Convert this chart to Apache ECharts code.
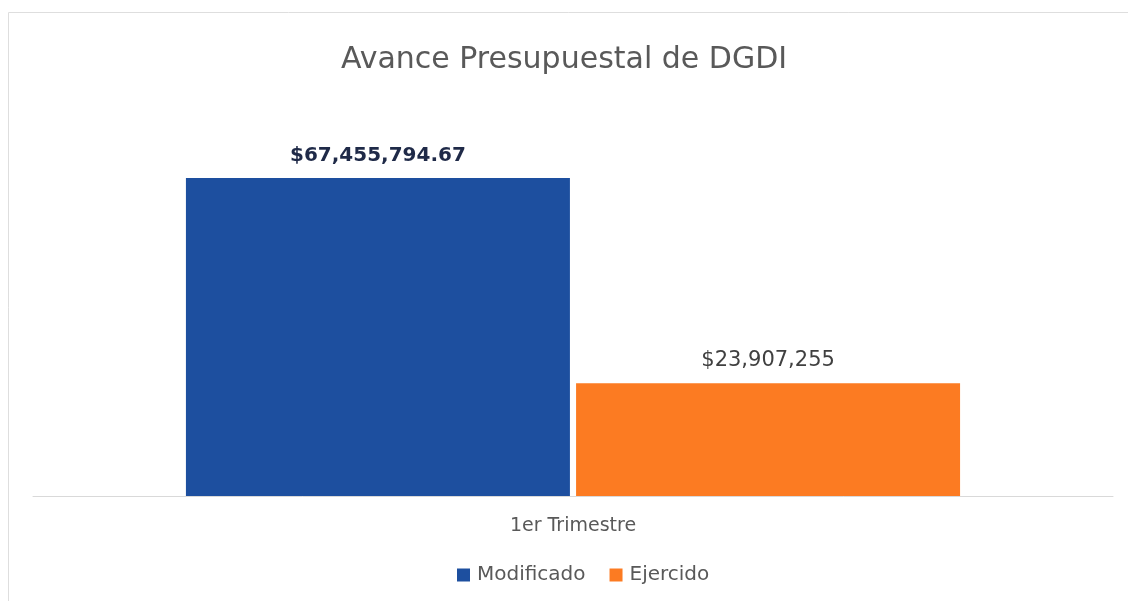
<!DOCTYPE html>
<html>
<head>
<meta charset="utf-8">
<script src="https://cdn.jsdelivr.net/npm/echarts@6/dist/echarts.min.js"></script>
<style>html,body{margin:0;padding:0;background:#fff;}#c{width:1128px;height:601px;}</style>
</head>
<body>
<div id="c"></div>
<script>
const categories = ['1er Trimestre'];
const seriesNames = ['Modificado', 'Ejercido'];
const modificado = [67455794.67];
const ejercido = [23907255];
const decimals = [2, 0];
const colors = ['#1D4F9F', '#FC7B22'];

function money(v, d) {
  return '$' + v.toLocaleString('en-US', {minimumFractionDigits: d, maximumFractionDigits: d});
}

const chart = echarts.init(document.getElementById('c'));
chart.setOption({
  animation: false,
  backgroundColor: '#fff',
  graphic: [{
    type: 'rect', shape: {x: 8.5, y: 12.5, width: 1140, height: 620},
    style: {fill: 'none', stroke: '#dedede', lineWidth: 1}
  }],
  title: {
    text: 'Avance Presupuestal de DGDI',
    left: 'center', top: 40,
    textStyle: {fontFamily: 'DejaVu Sans', fontSize: 30, fontWeight: 'normal', color: '#595959'}
  },
  legend: {
    bottom: 11, left: 452,
    itemWidth: 13, itemHeight: 13, itemGap: 24,
    icon: 'rect',
    textStyle: {fontFamily: 'DejaVu Sans', fontSize: 20, color: '#595959', padding: [0, 0, 0, 2]},
    data: seriesNames
  },
  grid: {left: 33, right: 15, top: 119, bottom: 105},
  xAxis: {
    type: 'category', data: categories,
    axisLine: {lineStyle: {color: '#d9d9d9'}},
    axisTick: {show: false},
    axisLabel: {fontFamily: 'DejaVu Sans', fontSize: 19, color: '#595959', margin: 21}
  },
  yAxis: {type: 'value', min: 0, max: 80000000, show: false, splitLine: {show: false}},
  series: [
    {
      name: seriesNames[0], type: 'bar', data: modificado, barWidth: 384, barGap: '1.6%',
      itemStyle: {color: colors[0]},
      label: {show: true, position: 'top', distance: 12,
        fontFamily: 'DejaVu Sans', fontWeight: 'bold', fontSize: 20, color: '#1F2A48',
        formatter: p => money(p.value, decimals[0])}
    },
    {
      name: seriesNames[1], type: 'bar', data: ejercido, barWidth: 384,
      itemStyle: {color: colors[1]},
      label: {show: true, position: 'top', distance: 12,
        fontFamily: 'DejaVu Sans', fontSize: 21, color: '#404040',
        formatter: p => money(p.value, decimals[1])}
    }
  ]
});
</script>
</body>
</html>
